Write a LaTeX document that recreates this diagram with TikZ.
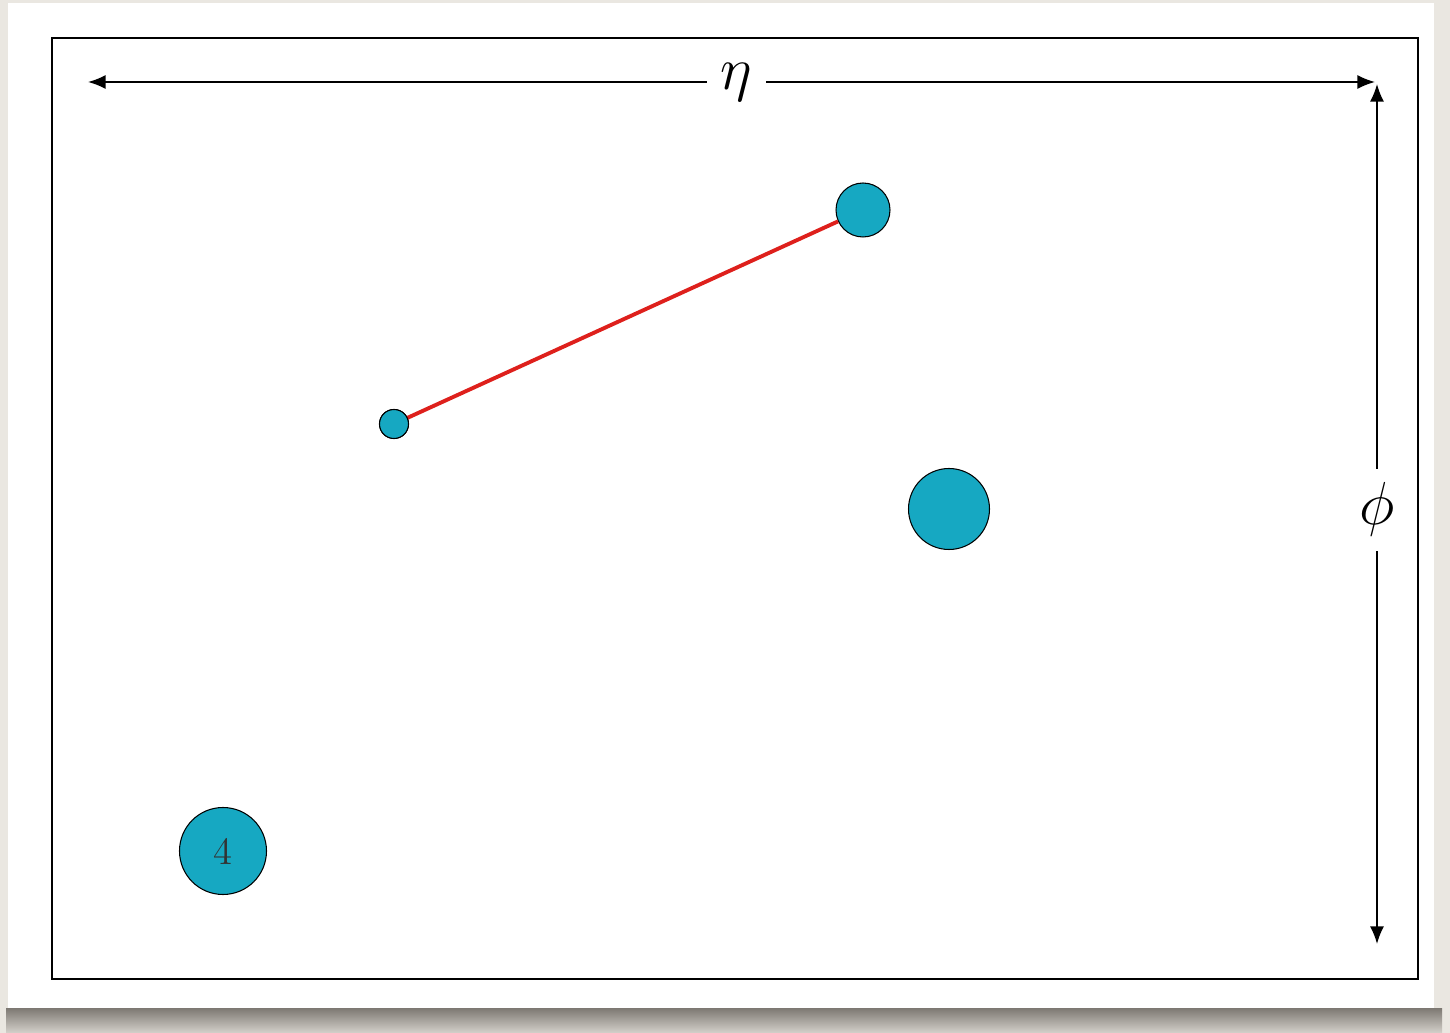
\documentclass[tikz,border=0pt]{standalone}
\usetikzlibrary{arrows.meta}
\definecolor{dot}{RGB}{22,168,194}
\definecolor{redline}{RGB}{222,32,28}
\definecolor{bgc}{RGB}{234,231,225}
\definecolor{shadowc}{RGB}{125,120,114}
\begin{document}
\begin{tikzpicture}[x=0.1mm,y=-0.1mm,
  ball/.style={circle,draw=black,line width=0.3pt,fill=dot,inner sep=0pt},
  dimarrow/.style={{Latex[length=5pt,width=4pt]}-{Latex[length=5pt,width=4pt]},line width=0.5pt},
  dimlabel/.style={fill=white,inner sep=4pt,font=\fontsize{19}{22}\selectfont}]
\useasboundingbox (0,0) rectangle (1450,1033);
\fill[bgc] (0,0) rectangle (1450,1033);
\shade[top color=shadowc,bottom color=bgc!80!shadowc] (6,1008) rectangle (1442,1033);
\fill[white] (8,3) rectangle (1434,1008);
\draw[line width=0.6pt] (52,38) rectangle (1418,979);
% dimension arrows
\coordinate (hl) at (88,82);
\coordinate (hr) at (1375,82);
\coordinate (vt) at (1377,84);
\coordinate (vb) at (1377,944);
\draw[dimarrow] (hl) -- node[dimlabel,pos=0.504]{$\eta$} (hr);
\draw[dimarrow] (vt) -- node[dimlabel,pos=0.495]{$\phi$} (vb);
% balls
\node[ball,minimum size=5.4mm] (b1) at (863,210) {};
\node[ball,minimum size=2.9mm] (b2) at (394,424) {};
\node[ball,minimum size=8.1mm] (b3) at (949,509) {};
\node[ball,minimum size=8.7mm,font=\fontsize{11}{13}\selectfont,text=black!80] (b4) at (223,851) {4};
\draw[redline,line width=1.1pt] (b2.center) -- (b1);
\node[ball,minimum size=2.9mm] at (b2.center) {};
\end{tikzpicture}
\end{document}
